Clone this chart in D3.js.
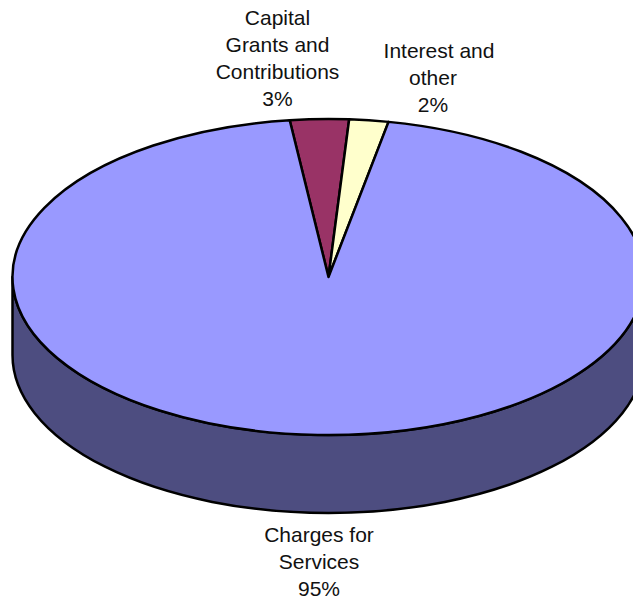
<!DOCTYPE html>
<html>
<head>
<meta charset="utf-8">
<script src="https://cdn.jsdelivr.net/npm/d3@7"></script>
<style>
  html, body { margin: 0; padding: 0; background: #fff; overflow: hidden; }
  svg { display: block; }
  text { font-family: "Liberation Sans", Arial, sans-serif; font-size: 21px; fill: #111; }
</style>
</head>
<body>
<svg id="chart" width="633" height="601"></svg>
<script>
// Revenue sources, in percent
const categories = ["Capital Grants and Contributions", "Interest and other", "Charges for Services"];
const values = [3, 2, 95];
const topColors = ["#993366", "#ffffcc", "#9999ff"];
const wallColor = "#4d4d80";
const labelLines = [
  [{ t: "Capital", dx: 0 }, { t: "Grants and", dx: 0 }, { t: "Contributions", dx: 0 }, { t: "3%", dx: 0 }],
  [{ t: "Interest and", dx: 6 }, { t: "other", dx: 0 }, { t: "2%", dx: 0 }],
  [{ t: "Charges for", dx: 0 }, { t: "Services", dx: 0 }, { t: "95%", dx: 0 }]
];

// Disc geometry
const cx = 328.5, cy = 277, rx = 316, ry = 158, depth = 78;
const firstAngle = -7.05 * Math.PI / 180;
const strokeW = 2.5;

const svg = d3.select("#chart");

// Front wall of the disc, below the lit top
svg.append("path")
  .attr("d", `M${cx - rx},${cy} V${cy + depth} A${rx},${ry} 0 0 0 ${cx + rx},${cy + depth} V${cy} A${rx},${ry} 0 0 1 ${cx - rx},${cy} Z`)
  .attr("fill", wallColor)
  .attr("stroke", "#000")
  .attr("stroke-width", strokeW)
  .attr("stroke-linejoin", "round");

// Top face: a flat pie squashed vertically, with strokes kept at constant width
const pie = d3.pie().sort(null).value(d => d)
  .startAngle(firstAngle).endAngle(firstAngle + 2 * Math.PI);
const arc = d3.arc().innerRadius(0).outerRadius(rx);

svg.append("g")
  .attr("transform", `translate(${cx},${cy}) scale(1,${ry / rx})`)
  .selectAll("path")
  .data(pie(values))
  .join("path")
  .attr("d", arc)
  .attr("fill", (d, i) => topColors[i])
  .attr("stroke", "#000")
  .attr("stroke-width", strokeW)
  .attr("stroke-linejoin", "round")
  .attr("vector-effect", "non-scaling-stroke");

// Category labels, one text element per slice
const labelAnchors = [[277.5, 25], [433, 58], [319, 542]];
const lineStep = 27;
svg.selectAll("text.label")
  .data(labelLines)
  .join("text")
  .attr("class", "label")
  .attr("text-anchor", "middle")
  .attr("transform", (d, i) => `translate(${labelAnchors[i][0]},${labelAnchors[i][1]})`)
  .selectAll("tspan")
  .data(d => d)
  .join("tspan")
  .attr("x", d => d.dx)
  .attr("y", (d, i) => i * lineStep)
  .text(d => d.t);
</script>
</body>
</html>
